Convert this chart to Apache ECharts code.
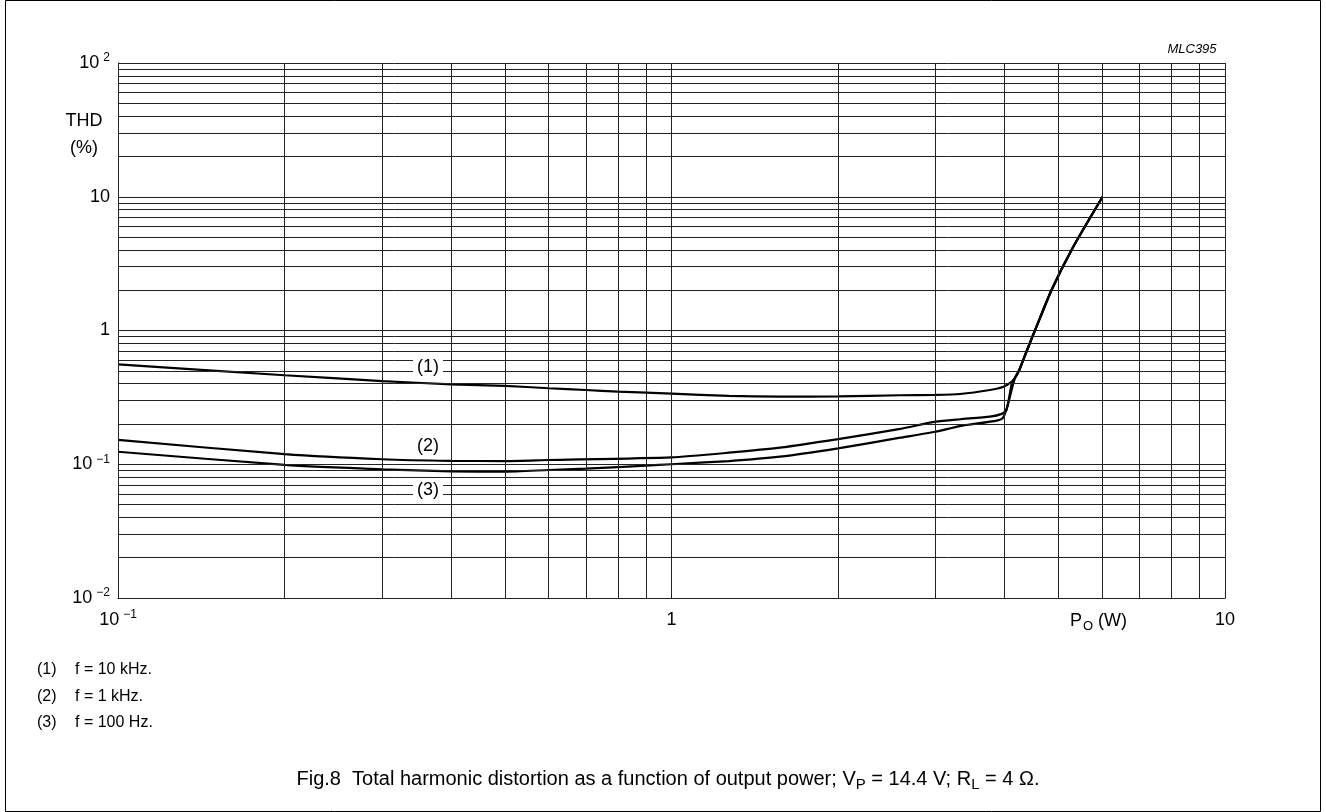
<!DOCTYPE html>
<html lang="en">
<head>
<meta charset="UTF-8">
<title>THD vs output power</title>
<style>
  html, body { margin: 0; padding: 0; background: #fff; }
  #main { width: 1326px; height: 812px; }
</style>
</head>
<body>
<div id="main"></div>
<script src="https://cdn.jsdelivr.net/npm/echarts@6/dist/echarts.min.js"></script>
<script>
// curve data: [Po (W), THD (%)]
var curve10k = [
  [0.1, 0.559], [0.2, 0.463], [0.3, 0.419], [0.4, 0.396], [0.5, 0.386],
  [0.6, 0.370], [0.7, 0.359], [0.8, 0.349], [0.9, 0.343], [1.0, 0.337],
  [1.27, 0.324], [1.57, 0.320], [2.0, 0.322], [2.59, 0.328], [3.0, 0.330],
  [3.32, 0.335], [3.76, 0.359], [3.98, 0.380], [4.12, 0.414], [4.17, 0.439]
];
var curve1k = [
  [0.1, 0.152], [0.2, 0.119], [0.3, 0.109], [0.4, 0.106], [0.5, 0.1057],
  [0.6, 0.1076], [1.0, 0.1127], [1.27, 0.122], [1.57, 0.133], [2.0, 0.154],
  [2.59, 0.184], [3.0, 0.208], [3.32, 0.217], [3.76, 0.227], [3.95, 0.238],
  [4.03, 0.255], [4.12, 0.403], [4.17, 0.439]
];
var curve100 = [
  [0.1, 0.124], [0.2, 0.099], [0.3, 0.0917], [0.4, 0.0886], [0.5, 0.088],
  [0.6, 0.0906], [0.7, 0.0927], [0.8, 0.0953], [0.9, 0.0976], [1.0, 0.100],
  [1.27, 0.1057], [1.57, 0.114], [2.0, 0.1316], [2.59, 0.158], [3.0, 0.175],
  [3.32, 0.193], [3.87, 0.212], [3.97, 0.222], [4.05, 0.277], [4.17, 0.439]
];
// common clipping branch shared by all three curves
var clipBranch = [
  [4.25, 0.507], [4.39, 0.715], [4.54, 1.01], [4.86, 2.01], [5.32, 4.23], [6.01, 10.0]
];

var xDecades = [0.1, 1];
var yDecades = [0.01, 0.1, 1, 10];
var noteNums = ['(1)', '(2)', '(3)'];
var noteTexts = ['f = 10 kHz.', 'f = 1 kHz.', 'f = 100 Hz.'];

// 1..9 lines inside every decade
function decadeLines(decades) {
  var out = [];
  decades.forEach(function (d) {
    for (var k = 1; k <= 10; k++) out.push(d * k);
  });
  return out;
}
var xGrid = decadeLines(xDecades);
var yGrid = decadeLines(yDecades);

function powLabel(v) {
  var e = Math.round(Math.log10(v));
  if (e === 0) return '{b|1}';
  if (e === 1) return '{b|10}';
  return '{b|10}{s|' + (e < 0 ? '\u2212' + (-e) : e) + '}';
}

var FONT = 'Liberation Sans';
var labelRich = {
  b: { fontSize: 18, color: '#000', fontFamily: FONT, lineHeight: 20 },
  s: { fontSize: 12, color: '#000', fontFamily: FONT, verticalAlign: 'bottom', padding: [0, 0, 9, 4], lineHeight: 20 }
};

var gridMarks = [];
xGrid.forEach(function (v) { gridMarks.push({ xAxis: v }); });
yGrid.forEach(function (v) { gridMarks.push({ yAxis: v }); });

var curveStyle = { color: '#000', width: 2.2 };

function plainText(x, y, txt, size, extra) {
  var st = { text: txt, font: size + 'px "' + FONT + '"', fill: '#000', verticalAlign: 'middle' };
  for (var k in extra) st[k] = extra[k];
  return { type: 'text', x: x, y: y, z: 10, style: st };
}

var myChart = echarts.init(document.getElementById('main'));
var option = {
  animation: false,
  backgroundColor: '#fff',
  textStyle: { fontFamily: FONT, color: '#000' },
  grid: { left: 118, top: 63, width: 1107, height: 535 },
  xAxis: {
    type: 'log', logBase: 10, min: 0.1, max: 10,
    axisLine: { show: true, lineStyle: { color: '#000', width: 1 } },
    axisTick: { show: false },
    splitLine: { show: false },
    axisLabel: { formatter: powLabel, rich: labelRich, margin: 12 }
  },
  yAxis: {
    type: 'log', logBase: 10, min: 0.01, max: 100,
    axisLine: { show: true, lineStyle: { color: '#000', width: 1 } },
    axisTick: { show: false },
    splitLine: { show: false },
    axisLabel: { formatter: powLabel, rich: labelRich, margin: 8 }
  },
  series: [
    {
      type: 'line', data: [], silent: true, z: 1,
      markLine: {
        silent: true, symbol: 'none', animation: false,
        label: { show: false },
        lineStyle: { color: '#222', width: 1, type: 'solid' },
        data: gridMarks
      }
    },
    { name: '10 kHz', type: 'line', data: curve10k.concat(clipBranch), showSymbol: false, smooth: 0.2, lineStyle: curveStyle, z: 3 },
    { name: '1 kHz', type: 'line', data: curve1k.concat(clipBranch), showSymbol: false, smooth: 0.2, lineStyle: curveStyle, z: 3 },
    { name: '100 Hz', type: 'line', data: curve100.concat(clipBranch), showSymbol: false, smooth: 0.2, lineStyle: curveStyle, z: 3 }
  ],
  graphic: [
    { type: 'rect', shape: { x: 5.5, y: 0.5, width: 1315, height: 811 }, style: { fill: 'none', stroke: '#000', lineWidth: 1 }, silent: true },
    { type: 'text', x: 1192, y: 49, style: { text: 'MLC395', font: 'italic 13px "' + FONT + '"', fill: '#000', align: 'center', verticalAlign: 'middle' } },
    plainText(84, 121, 'THD', 18, { align: 'center' }),
    plainText(84, 148, '(%)', 18, { align: 'center' }),
    {
      type: 'text', x: 1070, y: 621,
      style: {
        text: '{t|P}{u|O}{t| (W)}', verticalAlign: 'middle',
        rich: {
          t: { fontSize: 18, fontFamily: FONT, fill: '#000', lineHeight: 20 },
          u: { fontSize: 13, fontFamily: FONT, fill: '#000', verticalAlign: 'top', padding: [9, 0, 0, 1], lineHeight: 20 }
        }
      }
    },
    plainText(428, 367, '(1)', 18, { align: 'center', backgroundColor: '#fff', padding: [1, 4] }),
    plainText(428, 446, '(2)', 18, { align: 'center', backgroundColor: '#fff', padding: [1, 4] }),
    plainText(428, 490, '(3)', 18, { align: 'center', backgroundColor: '#fff', padding: [1, 4] }),
    plainText(37, 670, noteNums[0], 16, {}),
    plainText(75, 670, noteTexts[0], 16, {}),
    plainText(37, 697, noteNums[1], 16, {}),
    plainText(75, 697, noteTexts[1], 16, {}),
    plainText(37, 723, noteNums[2], 16, {}),
    plainText(75, 723, noteTexts[2], 16, {}),
    {
      type: 'text', x: 668, y: 779,
      style: {
        text: '{t|Fig.8  Total harmonic distortion as a function of output power; V}{u|P}{t| = 14.4 V; R}{u|L}{t| = 4 \u03A9.}',
        align: 'center', verticalAlign: 'middle',
        rich: {
          t: { fontSize: 20, fontFamily: FONT, fill: '#000', lineHeight: 24 },
          u: { fontSize: 15, fontFamily: FONT, fill: '#000', verticalAlign: 'top', padding: [10, 0, 0, 0], lineHeight: 24 }
        }
      }
    }
  ]
};
myChart.setOption(option);
</script>
</body>
</html>
